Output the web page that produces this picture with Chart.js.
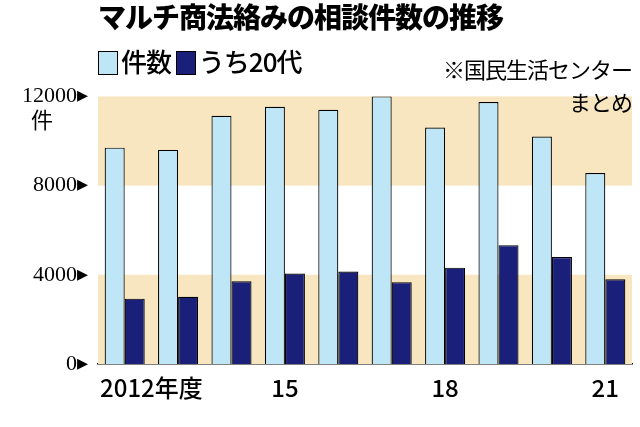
<!DOCTYPE html>
<html><head><meta charset="utf-8">
<script src="https://cdn.jsdelivr.net/npm/chart.js"></script>
<style>
body{margin:0;background:#fff;width:640px;height:427px;overflow:hidden;position:relative;font-family:"Noto Sans CJK JP",sans-serif}
#c{position:absolute;left:0;top:0}
.t{position:absolute;white-space:nowrap}
</style></head><body>
<canvas id="c" width="640" height="427"></canvas>
<div class="t" style="left:98px;top:-4px;font-size:28px;font-weight:900;letter-spacing:-1px">マルチ商法絡みの相談件数の推移</div>
<div class="t" style="left:98px;top:42px;font-size:26px;font-weight:500;letter-spacing:-1px"><span style="display:inline-block;width:18px;height:22px;background:#bfe6f7;border:1.5px solid #000;vertical-align:-3px;margin-right:3px"></span>件数 <span style="display:inline-block;width:18px;height:22px;background:#1a1f7a;border:1.5px solid #000;vertical-align:-3px;margin-right:3px"></span>うち20代</div>
<div class="t" style="right:8px;top:52px;font-size:22px;line-height:33px;text-align:right;letter-spacing:-1px">※国民生活センター<br>まとめ</div>
<script>
const years=["2012","2013","2014","2015","2016","2017","2018","2019","2020","2021"];
const xLabels=["2012年度","","","15","","","18","","","21"];
const total=[9700,9600,11130,11530,11400,12000,10600,11750,10200,8560];
const twenties=[2930,3010,3710,4060,4150,3670,4320,5330,4800,3800];
const yTicks=[0,4000,8000,12000];
const bands={id:'bands',beforeDatasetsDraw(ch){const {ctx,chartArea:a,scales:{y}}=ch;ctx.save();ctx.fillStyle='#f7e6c0';
[[0,4000],[8000,12000]].forEach(([l,h])=>{const t=y.getPixelForValue(h),b=y.getPixelForValue(l);ctx.fillRect(a.left,t,a.right-a.left,b-t);});ctx.restore();},
afterDraw(ch){const {ctx,scales:{x,y}}=ch;ctx.save();ctx.fillStyle='#000';ctx.font='500 24px "Noto Sans CJK JP"';ctx.textAlign='center';ctx.textBaseline='top';
xLabels.forEach((l,i)=>{if(!l)return;let px=x.getPixelForValue(i);if(i===0)px=(px+x.getPixelForValue(1))/2;ctx.fillText(l,px,y.bottom+12);});
ctx.font='22px "Noto Sans CJK JP"';ctx.fillText('件',42,y.getPixelForValue(12000)+12);ctx.restore();}};
new Chart(document.getElementById('c'),{type:'bar',data:{labels:years,datasets:[
{data:total,backgroundColor:'#bfe6f7',borderColor:'#000',borderWidth:1.2},
{data:twenties,backgroundColor:'#1a1f7a',borderColor:'#000',borderWidth:1.2}]},
options:{responsive:false,animation:false,layout:{padding:{top:83,right:8,left:0,bottom:55}},
datasets:{bar:{categoryPercentage:0.75,barPercentage:1}},
plugins:{legend:{display:false},tooltip:{enabled:false}},
scales:{x:{grid:{display:false},border:{display:true,color:'#000',width:1.5},ticks:{display:false}},
y:{min:0,max:12600,afterBuildTicks(s){s.ticks=yTicks.map(v=>({value:v}));},grid:{display:false},border:{display:false},
afterFit(s){s.width=98;},
ticks:{color:'#000',font:{family:'"Liberation Serif"',size:22},padding:2,callback:v=>v+'▸'}}}},
plugins:[bands]});
</script></body></html>
